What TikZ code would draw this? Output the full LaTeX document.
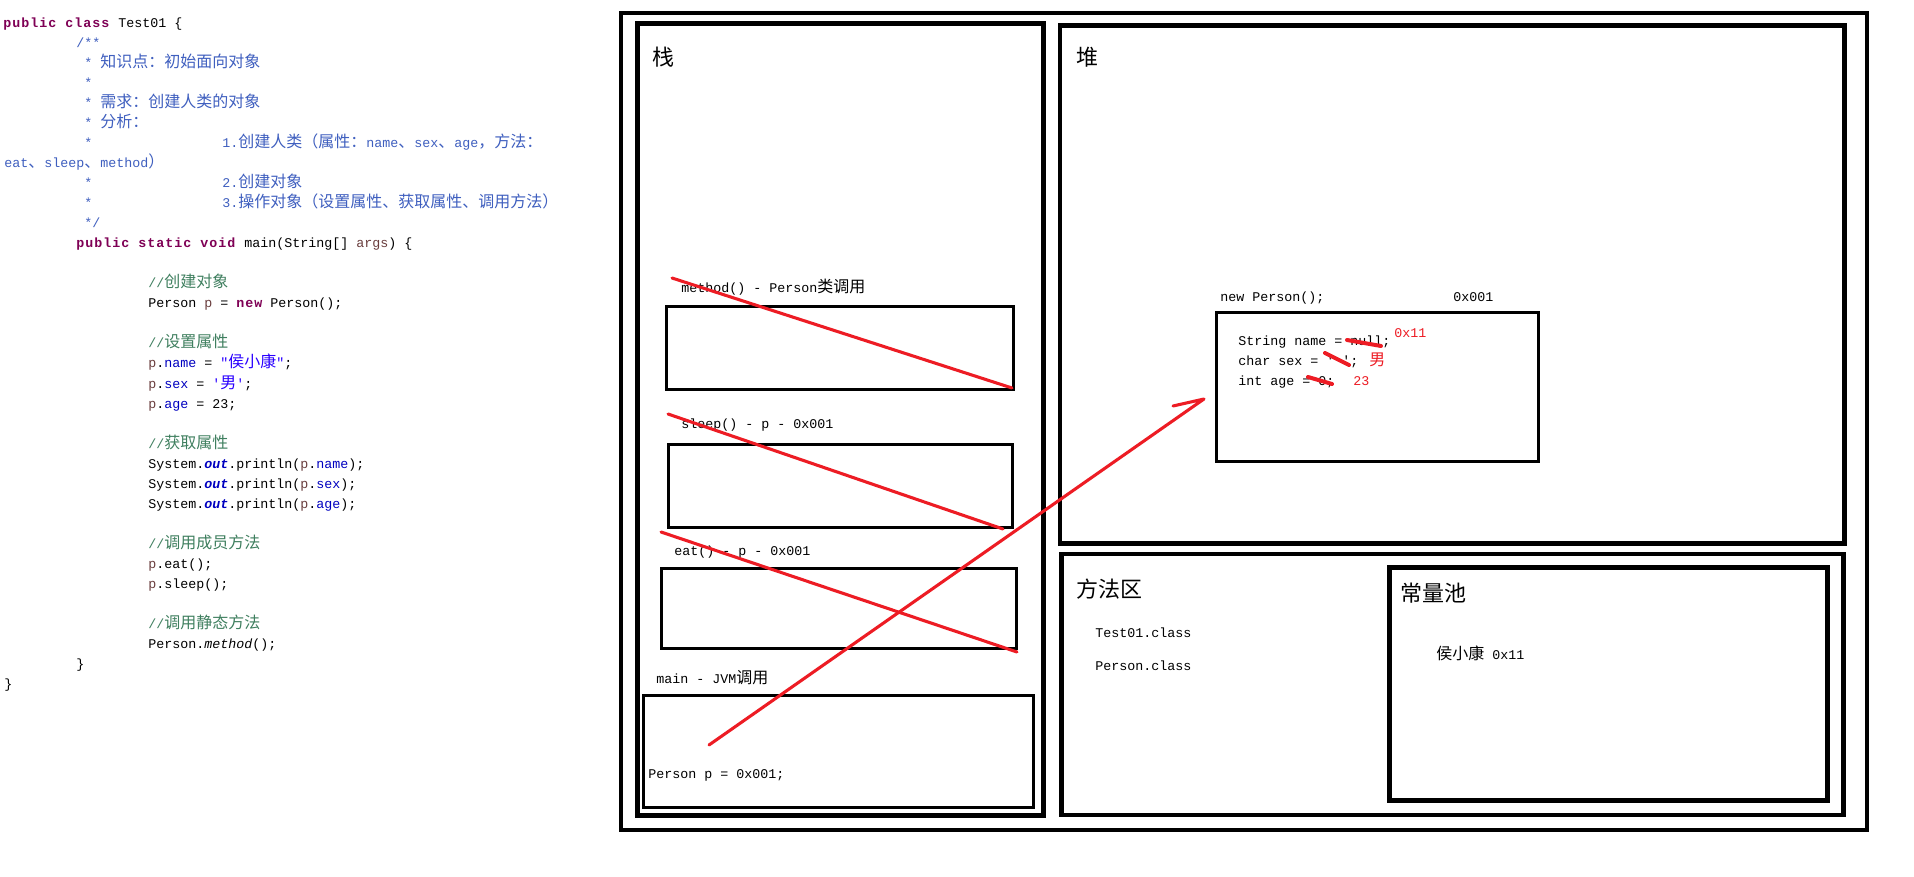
\documentclass[tikz,border=0pt]{standalone}
\usepackage{fontspec}
\newfontfamily\mono{Liberation Mono}
\newfontfamily\kwf{Liberation Mono}[LetterSpace=7.5]
\newfontfamily\cjk{Noto Sans CJK SC}
\definecolor{kwc}{HTML}{7F0055}
\definecolor{jdc}{HTML}{3F5FBF}
\definecolor{cmc}{HTML}{3F7F5F}
\definecolor{fldc}{HTML}{0000C0}
\definecolor{strc}{HTML}{2A00FF}
\definecolor{varc}{HTML}{6A3E3E}
\definecolor{redl}{HTML}{ED1C24}
\newcommand\codefont{\fontsize{10}{12}\selectfont\mono}
\newcommand\labelfont{\fontsize{16.5}{17}\selectfont\cjk}
\newcommand\zh[1]{{\fontsize{12}{12}\selectfont\cjk #1}}
\newcommand\kw[1]{{\color{kwc}\kwf\bfseries #1}}
\newcommand\jd[1]{{\color{jdc}#1}}
\newcommand\cm[1]{{\color{cmc}#1}}
\newcommand\fld[1]{{\color{fldc}#1}}
\newcommand\str[1]{{\color{strc}#1}}
\newcommand\lv[1]{{\color{varc}#1}}
\newcommand\outk{{\color{fldc}\bfseries\itshape out}}
\begin{document}
\begin{tikzpicture}[x=0.75pt,y=-0.75pt,
  code/.style={font=\codefont, anchor=base west, inner sep=0pt},
  area/.style={font=\labelfont, anchor=west, inner sep=0pt},
  outerframe/.style={draw, line width=3.4pt},
  frame/.style={draw, line width=3.6pt},
  box/.style={draw, line width=2.25pt},
  redmark/.style={draw=redl, line width=2.3pt, line cap=round, line join=round},
  strike/.style={draw=redl, line width=3pt, line cap=round},
  redtext/.style={code, text=redl}]
\fill[white] (0,0) rectangle (1914,877);
\useasboundingbox (0,0) rectangle (1914,877);

% ---------- code listing ----------
\node[code] (l0) at (3,28) {\kw{public class }Test01 \{};
\node[code] (l1) at (76,48) {\jd{/**}};
\node[code] (l2) at (84,68) {\jd{* \zh{知识点：初始面向对象}}};
\node[code] (l3) at (84,88) {\jd{*}};
\node[code] (l4) at (84,108) {\jd{* \zh{需求：创建人类的对象}}};
\node[code] (l5) at (84,128) {\jd{* \zh{分析：}}};
\node[code] (l6) at (84,148) {\jd{*}};
\node[code] (l6b) at (222,148) {\jd{1.\zh{创建人类（属性：}name\zh{、}sex\zh{、}age\zh{，方法：}}};
\node[code] (l7) at (4,168) {\jd{eat\zh{、}sleep\zh{、}method\zh{）}}};
\node[code] (l8) at (84,188) {\jd{*}};
\node[code] (l8b) at (222,188) {\jd{2.\zh{创建对象}}};
\node[code] (l9) at (84,208) {\jd{*}};
\node[code] (l9b) at (222,208) {\jd{3.\zh{操作对象（设置属性、获取属性、调用方法）}}};
\node[code] (l10) at (84,228) {\jd{*/}};
\node[code] (l11) at (76,248) {\kw{public static void }main(String[] \lv{args}) \{};
\node[code] (l13) at (148,288) {\cm{//\zh{创建对象}}};
\node[code] (l14) at (148,308) {Person \lv{p} = \kw{new} Person();};
\node[code] (l16) at (148,348) {\cm{//\zh{设置属性}}};
\node[code] (l17) at (148,368) {\lv{p}.\fld{name} = \str{"\zh{侯小康}"};};
\node[code] (l18) at (148,388) {\lv{p}.\fld{sex} = \str{'\zh{男}'};};
\node[code] (l19) at (148,408) {\lv{p}.\fld{age} = 23;};
\node[code] (l21) at (148,448) {\cm{//\zh{获取属性}}};
\node[code] (l22) at (148,468) {System.\outk.println(\lv{p}.\fld{name});};
\node[code] (l23) at (148,488) {System.\outk.println(\lv{p}.\fld{sex});};
\node[code] (l24) at (148,508) {System.\outk.println(\lv{p}.\fld{age});};
\node[code] (l26) at (148,548) {\cm{//\zh{调用成员方法}}};
\node[code] (l27) at (148,568) {\lv{p}.eat();};
\node[code] (l28) at (148,588) {\lv{p}.sleep();};
\node[code] (l30) at (148,628) {\cm{//\zh{调用静态方法}}};
\node[code] (l31) at (148,648) {Person.\textit{method}();};
\node[code] (l32) at (76,668) {\}};
\node[code] (l33) at (4,688) {\}};

% ---------- memory frames ----------
\draw[outerframe] (621,13) rectangle (1867,830);
\draw[frame] (637.5,23.5) rectangle (1043.5,815.5);
\draw[frame] (1060,25.5) rectangle (1844.5,543.5);
\draw[frame] (1061.5,554) rectangle (1843.5,815);
\draw[frame] (1389.5,567.5) rectangle (1827.5,800.5);

\node[area] (stack) at (652,57) {栈};
\node[area] (heap) at (1076,57) {堆};
\node[area] (marea) at (1076,589) {方法区};
\node[area] (cpool) at (1400,593) {常量池};

% stack frames
\draw[box] (666,307) rectangle (1013,389);
\draw[box] (668,444) rectangle (1012,527);
\draw[box] (661,568) rectangle (1016,648);
\draw[box] (643,695) rectangle (1033,807);

\node[code] (sf1) at (681,293) {method() - Person\zh{类调用}};
\node[code] (sf2) at (681,428) {sleep() - p - 0x001};
\node[code] (sf3) at (674,555) {eat() - p - 0x001};
\node[code] (sf4) at (656,683) {main - JVM\zh{调用}};
\node[code] (sf5) at (648,778) {Person p = 0x001;};

% heap object
\node[code] (h1) at (1220,302) {new Person();};
\node[code] (h2) at (1453,302) {0x001};
\draw[box] (1216,313) rectangle (1538,461);
\node[code] (h3) at (1238,345) {String name = null;};
\node[code] (h4) at (1238,365) {char sex = ' ';};
\node[code] (h5) at (1238,385) {int age = 0;};
\node[redtext] (r1) at (1394,338) {0x11};
\node[redtext] (r2) at (1369,366) {\zh{男}};
\node[redtext] (r3) at (1353,385) {23};

% method area / constant pool
\node[code] (m1) at (1095,637) {Test01.class};
\node[code] (m2) at (1095,670) {Person.class};
\node[code] (k1) at (1436,659) {\zh{侯小康} 0x11};

% ---------- red marks ----------
\coordinate (c1a) at (672,278);  \coordinate (c1b) at (1012,388);
\coordinate (c2a) at (668,414);  \coordinate (c2b) at (1003,529);
\coordinate (c3a) at (661,532);  \coordinate (c3b) at (1017,652);
\draw[redmark] (c1a) -- (c1b);
\draw[redmark] (c2a) -- (c2b);
\draw[redmark] (c3a) -- (c3b);

\coordinate (astart) at (709,745);
\coordinate (aend) at (1204,399);
\coordinate (abarb) at (1173,406);
\draw[redmark] (astart) -- (aend) -- (abarb);

\coordinate (s1a) at (1347,340); \coordinate (s1b) at (1381,346);
\coordinate (s2a) at (1325,353); \coordinate (s2b) at (1349,365);
\coordinate (s3a) at (1308,377); \coordinate (s3b) at (1332,384);
\draw[strike] (s1a) -- (s1b);
\draw[strike] (s2a) -- (s2b);
\draw[strike] (s3a) -- (s3b);
\end{tikzpicture}
\end{document}
